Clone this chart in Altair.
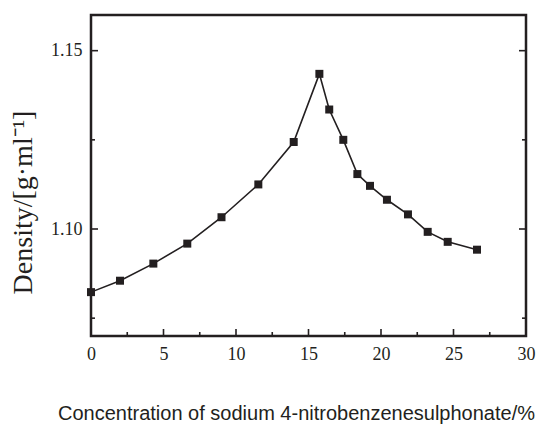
import altair as alt
import pandas as pd

conc = [0.0, 2.0, 4.3, 6.64, 9.0, 11.54, 13.98, 15.75, 16.43, 17.4, 18.37,
        19.24, 20.41, 21.86, 23.22, 24.6, 26.62]
dens = [1.0823, 1.0855, 1.0903, 1.0959, 1.1033, 1.1125, 1.1244, 1.1435, 1.1335,
        1.125, 1.1154, 1.1121, 1.1082, 1.1041, 1.0992, 1.0964, 1.0942]

x_major = [0, 5, 10, 15, 20, 25, 30]
x_minor = [2.5, 7.5, 12.5, 17.5, 22.5, 27.5]
y_major = [1.10, 1.15]
y_minor = [1.075, 1.125]

W, H = 435, 321
INK = "#231f20"

df = pd.DataFrame({"conc": conc, "dens": dens, "i": list(range(len(conc)))})

xs = alt.Scale(domain=[0, 30], nice=False, zero=False)
ys = alt.Scale(domain=[1.07, 1.16], nice=False, zero=False)

x_axis = alt.Axis(
    values=x_major, format="d", grid=False, domain=False, ticks=False, tickSize=0,
    labelPadding=9, labelFont="Liberation Serif", labelFontSize=18, labelColor=INK,
    labelFlush=False,
    title="Concentration of sodium 4-nitrobenzenesulphonate/%",
    titleFont="Liberation Sans", titleFontSize=20, titleFontWeight="normal",
    titleColor=INK, titleX=205, titleY=83, titleBaseline="alphabetic",
    titleAlign="center",
)
y_axis = alt.Axis(
    values=y_major, format=".2f", grid=False, domain=False, ticks=False, tickSize=0,
    labelPadding=9, labelFont="Liberation Serif", labelFontSize=18, labelColor=INK,
    labelFlush=False,
    title="Density/[g·ml⁻¹]",
    titleFont="Liberation Serif", titleFontSize=28, titleFontWeight="normal",
    titleColor=INK, titleAngle=-90, titleX=-60, titleY=187,
    titleBaseline="alphabetic", titleAlign="center",
)

base = alt.Chart(df)
line = base.mark_line(color=INK, strokeWidth=1.6).encode(
    x=alt.X("conc:Q", scale=xs, axis=x_axis),
    y=alt.Y("dens:Q", scale=ys, axis=y_axis),
    order="i:Q",
)
pts = base.mark_square(color=INK, size=64, opacity=1).encode(
    x=alt.X("conc:Q", scale=xs, axis=x_axis),
    y=alt.Y("dens:Q", scale=ys, axis=y_axis),
)

def xticks(vals, length):
    d = pd.DataFrame({"v": vals})
    return alt.Chart(d).mark_rule(color=INK, strokeWidth=1.6).encode(
        x=alt.X("v:Q", scale=xs, axis=x_axis),
        y=alt.value(H), y2=alt.value(H - length),
    )

def yticks(vals, length, side):
    d = pd.DataFrame({"v": vals})
    x0 = 0 if side == "left" else W
    x1 = length if side == "left" else W - length
    return alt.Chart(d).mark_rule(color=INK, strokeWidth=1.6).encode(
        y=alt.Y("v:Q", scale=ys, axis=y_axis),
        x=alt.value(x0), x2=alt.value(x1),
    )

chart = alt.layer(
    line, pts,
    xticks(x_major, 7), xticks(x_minor, 4),
    yticks(y_major, 7, "left"), yticks(y_minor, 4, "left"),
    yticks(y_major, 7, "right"), yticks(y_minor, 4, "right"),
).properties(
    width=W, height=H,
    autosize=alt.AutoSizeParams(type="none"),
    padding={"left": 91, "top": 15, "right": 11, "bottom": 92},
    background="white",
).configure_view(stroke=INK, strokeWidth=2.5)

chart.save("out.html", embed_options={"renderer": "svg", "actions": False})
